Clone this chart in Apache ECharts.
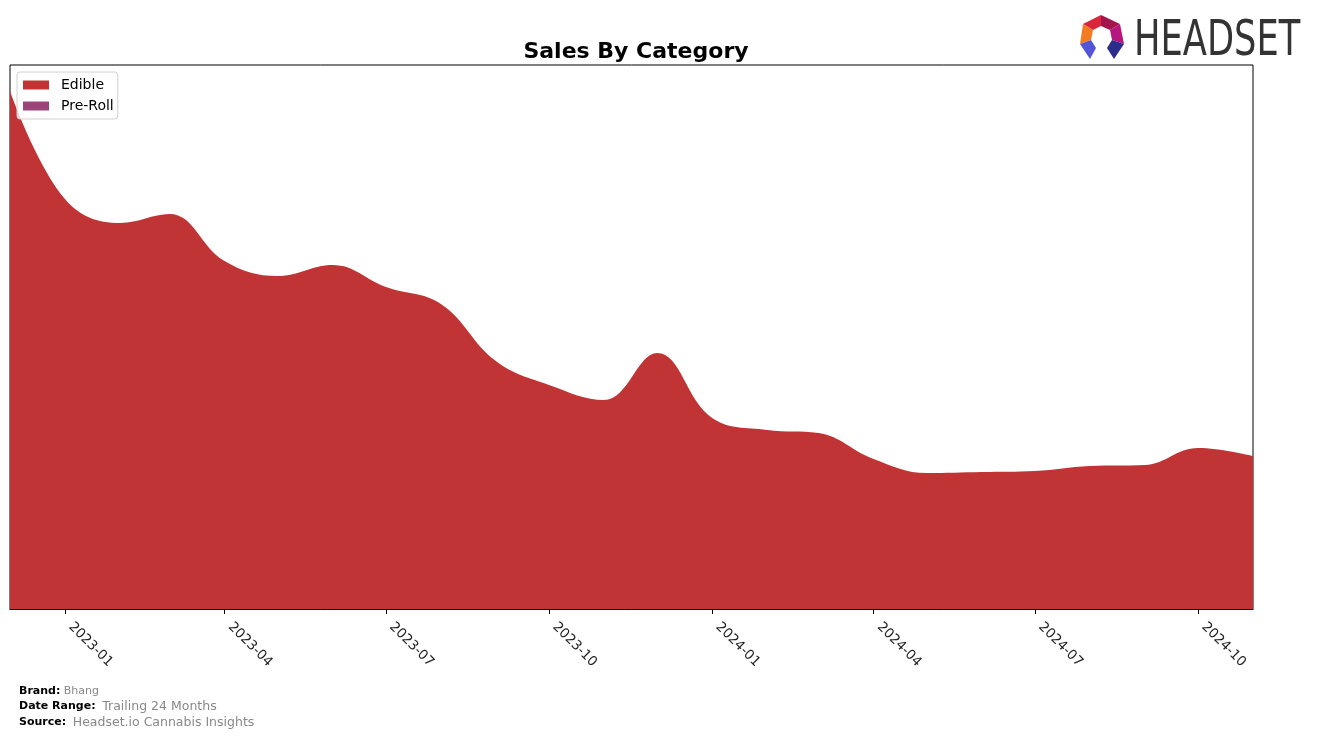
<!DOCTYPE html>
<html>
<head>
<meta charset="utf-8">
<script src="https://cdn.jsdelivr.net/npm/echarts@6/dist/echarts.min.js"></script>
<style>
html,body{margin:0;padding:0;background:#fff;}
#chart{width:1317px;height:738px;}
</style>
</head>
<body>
<div id="chart"></div>
<script>
// ---- data ----
const months = ['2022-12-01','2023-01-01','2023-02-01','2023-03-01','2023-04-01','2023-05-01','2023-06-01','2023-07-01','2023-08-01','2023-09-01','2023-10-01','2023-11-01','2023-12-01','2024-01-01','2024-02-01','2024-03-01','2024-04-01','2024-05-01','2024-06-01','2024-07-01','2024-08-01','2024-09-01','2024-10-01','2024-11-01'];
const edible = [518,410,386,395,348,333,344,322,305,248,224,209,256,191,179,176,150,136,137,138,143,144,161,153];
const preRoll = [2,1.5,1,1,1,1,1,1,1,1,1,1,1,1,1,1,1,1,1,1,1,1,1,1];
const tickLabels = ['2023-01','2023-04','2023-07','2023-10','2024-01','2024-04','2024-07','2024-10'];

const toTs = d => Date.UTC(+d.slice(0,4), +d.slice(5,7)-1, 1);
const tickValues = tickLabels.map(toTs);
const labelOf = v => { const i = tickValues.indexOf(v); return i >= 0 ? tickLabels[i] : ''; };

const chart = echarts.init(document.getElementById('chart'), null, {renderer:'canvas'});
const font = 'DejaVu Sans, sans-serif';

chart.setOption({
  animation:false,
  backgroundColor:'#fff',
  title:{
    text:'Sales By Category',
    left:631, top:36, textAlign:'center',
    textStyle:{fontFamily:font,fontSize:22,fontWeight:'bold',color:'#000'}
  },
  legend:{
    left:17, top:72, orient:'vertical',
    itemWidth:26, itemHeight:9, itemGap:7,
    padding:[6,4,6,6],
    borderColor:'#d0d0d0', borderWidth:1, borderRadius:3,
    backgroundColor:'rgba(255,255,255,0.8)',
    icon:'rect',
    textStyle:{fontFamily:font,fontSize:14,color:'#000',lineHeight:14,padding:[0,0,0,7]},
    data:['Edible','Pre-Roll']
  },
  grid:{left:10,right:64,top:65,bottom:129,show:true,borderColor:'#000',borderWidth:1,backgroundColor:'transparent'},
  xAxis:{
    type:'value',
    min:toTs(months[0]), max:toTs(months[months.length-1]),
    axisLine:{show:true,lineStyle:{color:'#000',width:1}},
    axisTick:{show:true,length:5,lineStyle:{color:'#000'},customValues:tickValues},
    axisLabel:{
      customValues:tickValues,
      rotate:-45, margin:10, padding:[0,0,0,8], showMinLabel:true, showMaxLabel:true,
      fontFamily:font,fontSize:13.5,color:'#222',
      formatter:labelOf
    },
    splitLine:{show:false}
  },
  yAxis:{
    type:'value', min:0, max:544,
    axisLine:{show:false}, axisTick:{show:false}, axisLabel:{show:false}, splitLine:{show:false}
  },
  series:[
    {
      name:'Edible', type:'line', stack:'total', smooth:0.4, symbol:'none',
      lineStyle:{width:0}, itemStyle:{color:'#C13435'},
      areaStyle:{color:'#C13435',opacity:1},
      data:months.map((m,i)=>[toTs(m),edible[i]])
    },
    {
      name:'Pre-Roll', type:'line', stack:'total', smooth:0.4, symbol:'none',
      lineStyle:{width:1,color:'#9B4479'}, itemStyle:{color:'#9B4479'},
      areaStyle:{color:'#9B4479',opacity:1},
      data:months.map((m,i)=>[toTs(m),preRoll[i]])
    }
  ],
  graphic:[
    {type:'text',left:19,top:685,style:{text:'{b|Brand:} {g|Bhang}',rich:{b:{fontFamily:font,fontSize:11,fontWeight:'bold',fill:'#000'},g:{fontFamily:font,fontSize:11,fill:'#888'}}}},
    {type:'text',left:19,top:700,style:{text:'{b|Date Range:}  {g|Trailing 24 Months}',rich:{b:{fontFamily:font,fontSize:11,fontWeight:'bold',fill:'#000'},g:{fontFamily:font,fontSize:12.5,fill:'#888'}}}},
    {type:'text',left:19,top:716,style:{text:'{b|Source:}  {g|Headset.io Cannabis Insights}',rich:{b:{fontFamily:font,fontSize:11,fontWeight:'bold',fill:'#000'},g:{fontFamily:font,fontSize:12.5,fill:'#888'}}}},
    {type:'polygon',shape:{points:[[1101,15],[1083,24],[1093,30],[1101,26]]},style:{fill:'#D9263B'}},
    {type:'polygon',shape:{points:[[1101,15],[1120,24],[1110,30],[1101,26]]},style:{fill:'#A3154C'}},
    {type:'polygon',shape:{points:[[1083,24],[1093,30],[1091,40],[1080,44]]},style:{fill:'#F47B20'}},
    {type:'polygon',shape:{points:[[1120,24],[1110,30],[1112,40],[1124,44]]},style:{fill:'#B5177F'}},
    {type:'polygon',shape:{points:[[1080,44],[1091,40],[1096,48],[1090,59]]},style:{fill:'#5355D6'}},
    {type:'polygon',shape:{points:[[1124,44],[1112,40],[1107,48],[1114,59]]},style:{fill:'#2B2C8C'}},
    {type:'text',x:1134,y:42,scaleX:0.72,style:{text:'HEADSET',fontFamily:font,fontSize:49,fill:'#333',verticalAlign:'middle',align:'left'}}
  ]
});
</script>
</body>
</html>
